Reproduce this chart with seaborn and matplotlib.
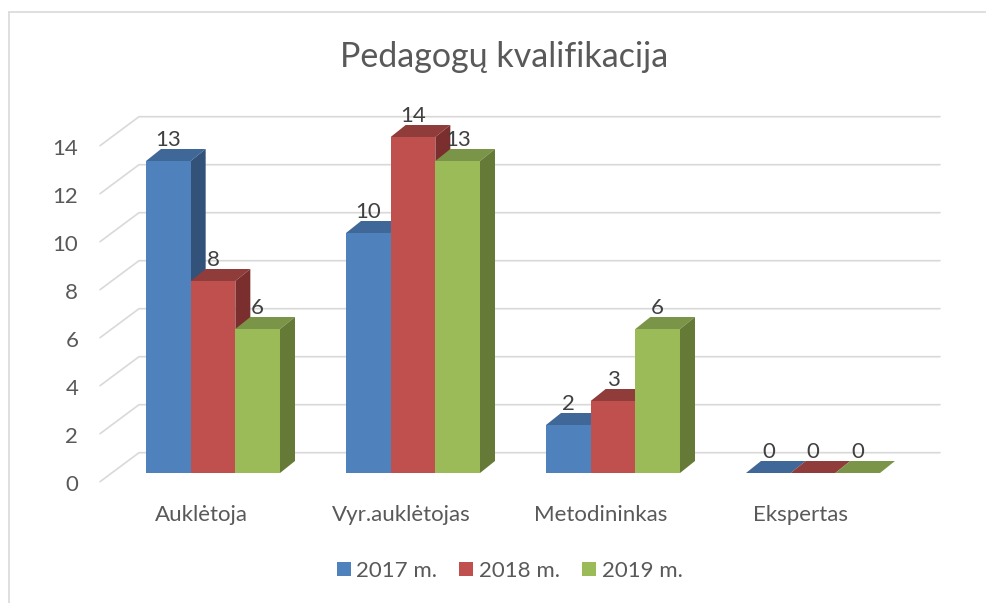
import pandas as pd
import matplotlib
matplotlib.use("Agg")
import matplotlib.pyplot as plt
import seaborn as sns
from matplotlib.lines import Line2D
from matplotlib.patches import Polygon
from matplotlib.transforms import ScaledTranslation

categories = ["Auklėtoja", "Vyr.auklėtojas", "Metodininkas", "Ekspertas"]
years = ["2017 m.", "2018 m.", "2019 m."]
values_2017 = [13, 10, 2, 0]
values_2018 = [8, 14, 3, 0]
values_2019 = [6, 13, 6, 0]
y_ticks = [0, 2, 4, 6, 8, 10, 12, 14]

front_colors = ["#4f81bd", "#c0504d", "#9bbb59"]
top_colors = ["#3f6797", "#8f3c3a", "#7a9547"]
side_colors = ["#32527a", "#7a2f2e", "#667a37"]
grid_color = "#d9d9d9"
text_color = "#595959"

# tamanos en pixeles de la figura
W, H = 987, 603
DPI = 100
PX_X = 200  # pixeles por categoria
PX_Y = 24   # pixeles por unidad
FONT = 16

df = pd.DataFrame({
    "categoria": categories * 3,
    "anio": [y for y in years for _ in categories],
    "valor": values_2017 + values_2018 + values_2019,
})

sns.set_theme(style="white")
plt.rcParams["font.family"] = ["Lato", "DejaVu Sans"]

fig = plt.figure(figsize=(W / DPI, H / DPI), dpi=DPI)
ax = fig.add_axes([113 / W, (H - 473) / H, 800 / W, 336 / H])

sns.barplot(data=df, x="categoria", y="valor", hue="anio", order=categories,
            hue_order=years, palette=front_colors, width=0.67, gap=0,
            saturation=1, linewidth=0, ax=ax)

ax.set_xlim(-0.5, 3.5)
ax.set_ylim(0, 14)
ax.set_yticks(y_ticks)
ax.set_xlabel("")
ax.set_ylabel("")
ax.patch.set_visible(False)
sns.despine(ax=ax, left=True, bottom=True)

# Paredes del grafico: lineas de fondo y diagonales laterales
x_front = (100 - 213) / PX_X
x_back = (139 - 213) / PX_X
x_end = (940 - 213) / PX_X
y_front = -8.7 / PX_Y
y_back = 20.3 / PX_Y
for v in y_ticks:
    ax.plot([x_front, x_back, x_end], [v + y_front, v + y_back, v + y_back],
            color=grid_color, lw=1.2, zorder=1, clip_on=False,
            solid_joinstyle="miter")

# Caras superior y lateral de cada barra
dx = 15 / PX_X
dy = 12 / PX_Y
for i, container in enumerate(ax.containers):
    base_z = 3 + i
    for bar in container:
        x0 = bar.get_x()
        x1 = x0 + bar.get_width()
        h = bar.get_height()
        top = Polygon([(x0, h), (x1, h), (x1 + dx, h + dy), (x0 + dx, h + dy)],
                      closed=True, fc=top_colors[i], ec="none", zorder=base_z,
                      clip_on=False)
        ax.add_patch(top)
        if h > 0:
            side = Polygon([(x1, 0), (x1 + dx, dy), (x1 + dx, h + dy), (x1, h)],
                           closed=True, fc=side_colors[i], ec="none",
                           zorder=base_z, clip_on=False)
            ax.add_patch(side)
        bar.set_zorder(base_z + 0.5)
        bar.set_clip_on(False)
    ax.bar_label(container, padding=8, fontsize=FONT, color="#404040", zorder=10)

ax.tick_params(axis="y", length=0, pad=25, labelsize=FONT, labelcolor=text_color)
ax.tick_params(axis="x", length=0, pad=23, labelsize=FONT, labelcolor=text_color)
for label in ax.get_yticklabels():
    label.set_transform(label.get_transform() + ScaledTranslation(0, -10 / DPI, fig.dpi_scale_trans))
for label in ax.get_xticklabels():
    label.set_transform(label.get_transform() + ScaledTranslation(-12 / DPI, 0, fig.dpi_scale_trans))

sns.move_legend(ax, "center", bbox_to_anchor=(509.5 / W, (H - 571) / H),
                bbox_transform=fig.transFigure, ncol=3, frameon=False, title=None,
                fontsize=FONT, handlelength=0.63, handleheight=0.63,
                handletextpad=0.25, columnspacing=1.0, labelcolor=text_color)

fig.suptitle("Pedagogų kvalifikacija", x=504 / W, y=1 - 57 / H, va="center",
             fontsize=24.5, color=text_color)

# Borde del grafico
fig.add_artist(Line2D([9 / W, 9 / W], [0, 1 - 12 / H], color=grid_color, lw=1.2))
fig.add_artist(Line2D([9 / W, 1], [1 - 12 / H, 1 - 12 / H], color=grid_color, lw=1.2))

fig.savefig("out.png", dpi=DPI)
